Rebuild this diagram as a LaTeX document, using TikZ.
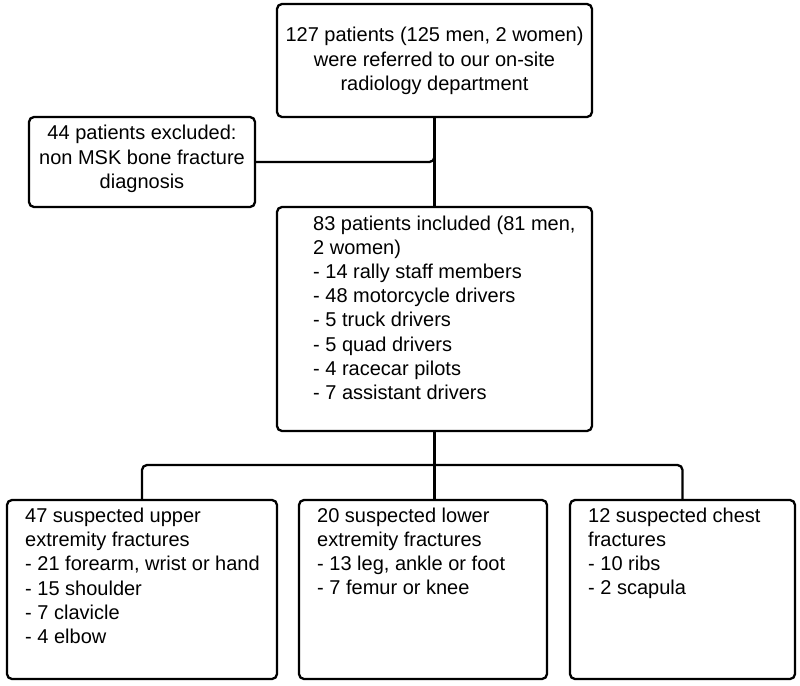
\documentclass[tikz,border=0pt]{standalone}
\usepackage{fontspec}
\setmainfont{Liberation Sans}
\begin{document}
\begin{tikzpicture}[x=1pt,y=-1pt,
  box/.style={draw, line width=2.3pt, rounded corners=5pt, inner sep=0pt},
  txt/.style={inner sep=0pt, font=\fontsize{20}{24.2}\selectfont},
  link/.style={line width=2.3pt, rounded corners=5pt}]
\useasboundingbox (0,0) rectangle (800,685);
% boxes
\node[box, minimum width=315pt, minimum height=113pt] (top) at (434.5,60.5) {};
\node[box, minimum width=226pt, minimum height=90pt] (excl) at (142,162) {};
\node[box, minimum width=315pt, minimum height=224pt] (mid) at (434.5,319) {};
\node[box, minimum width=270pt, minimum height=179pt] (bl) at (142,589.5) {};
\node[box, minimum width=248pt, minimum height=179pt] (bm) at (423,589.5) {};
\node[box, minimum width=225pt, minimum height=179pt] (br) at (682.5,589.5) {};
% texts
\node[txt, align=center] (ttop) at (434.5,61) {127 patients (125 men, 2 women)\\were referred to our on-site\\radiology department};
\node[txt, align=center] (texcl) at (142,159) {44 patients excluded:\\non MSK bone fracture\\diagnosis};
\node[txt, align=left, anchor=north west] (tmid) at (313,215.5) {83 patients included (81 men,\\2 women)\\- 14 rally staff members\\- 48 motorcycle drivers\\- 5 truck drivers\\- 5 quad drivers\\- 4 racecar pilots\\- 7 assistant drivers};
\node[txt, align=left, anchor=north west] (tbl) at (25,507.7) {47 suspected upper\\extremity fractures\\- 21 forearm, wrist or hand\\- 15 shoulder\\- 7 clavicle\\- 4 elbow};
\node[txt, align=left, anchor=north west] (tbm) at (317,507.7) {20 suspected lower\\extremity fractures\\- 13 leg, ankle or foot\\- 7 femur or knee};
\node[txt, align=left, anchor=north west] (tbr) at (588,507.7) {12 suspected chest\\fractures\\- 10 ribs\\- 2 scapula};
% connectors
\coordinate (bus) at (434,465);
\draw[link] (top.south) -- (mid.north);
\draw[link] (excl.east) -| (top.south);
\draw[link] (mid.south) -- (mid.south |- bm.north);
\draw[link] (bl.north) |- (bus) -| (br.north);
\end{tikzpicture}
\end{document}
